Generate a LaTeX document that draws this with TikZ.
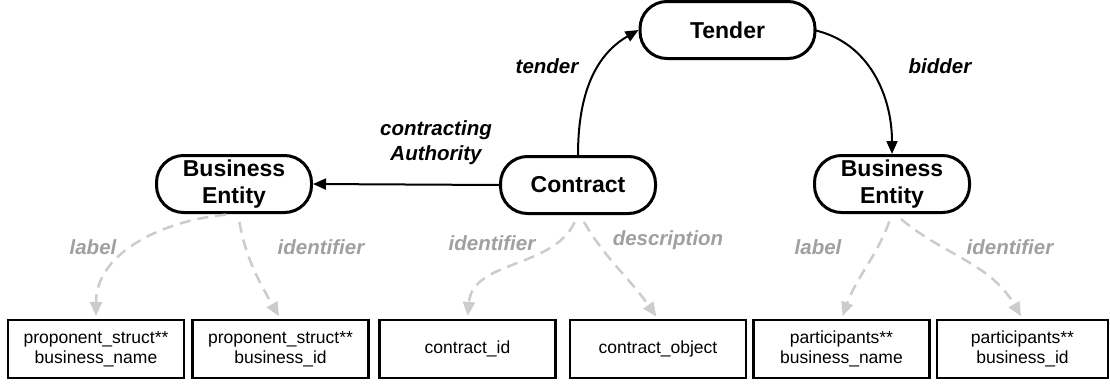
\documentclass[tikz,border=0pt]{standalone}
\usepackage{fontspec}
\setmainfont{Liberation Sans}
\usetikzlibrary{arrows.meta}
\definecolor{lightline}{RGB}{204,204,204}
\definecolor{graytext}{RGB}{160,160,160}
\tikzset{
  entity/.style={draw=black, line width=3pt, rounded corners=27pt, minimum width=155pt, minimum height=57pt, align=center, font=\fontsize{23}{27}\selectfont\bfseries, inner sep=0pt},
  field/.style={draw=black, line width=2.2pt, minimum width=176pt, minimum height=58pt, align=center, font=\fontsize{17.5}{20.5}\selectfont, inner sep=0pt},
  rel/.style={line width=2pt, -{Triangle[length=13pt,width=11pt]}},
  attr/.style={lightline, line width=2.5pt, dash pattern=on 11pt off 7pt, -{Triangle[length=14pt,width=12pt,fill=lightline]}, shorten <=8pt, shorten >=3pt},
  rlab/.style={font=\fontsize{20.5}{25}\selectfont\bfseries\itshape, align=center},
  alab/.style={font=\fontsize{20.5}{25}\selectfont\bfseries\itshape, text=graytext}
}
\begin{document}
\begin{tikzpicture}[x=1pt,y=-1pt]
\useasboundingbox (0,0) rectangle (1110,383);
\node[entity, minimum width=175pt] (tender) at (727.5,30) {Tender};
\node[entity] (contract) at (578,185) {Contract};
\node[entity] (be1) at (234,184) {Business\\Entity};
\node[entity] (be2) at (892,184) {Business\\Entity};

\node[field] (f1) at (96,349) {proponent\_struct**\\business\_name};
\node[field] (f2) at (280.5,349) {proponent\_struct**\\business\_id};
\node[field] (f3) at (467.5,349) {contract\_id};
\node[field] (f4) at (658,349) {contract\_object};
\node[field] (f5) at (841.5,349) {participants**\\business\_name};
\node[field, minimum width=171pt] (f6) at (1022.5,349) {participants**\\business\_id};

\draw[rel] (contract.west) -- (be1.east);
\draw[rel] (contract.north) to[out=90,in=210] (tender.west);
\draw[rel] ([xshift=-3pt]tender.east) to[out=-12,in=90] (be2.north);

\node[rlab] (lca) at (436,143) {contracting\\Authority};
\node[rlab] (lt) at (547,66) {tender};
\node[rlab] (lb) at (940,66) {bidder};

\draw[attr] (be1.south) to[out=185,in=90] (f1.north);
\draw[attr] ([xshift=4pt]be1.south) to[out=-80,in=120] (f2.north);
\draw[attr] (contract.south) to[out=-115,in=85] (f3.north);
\draw[attr] ([xshift=2pt]contract.south) to[out=-60,in=125] (f4.north);
\draw[attr] (be2.south) to[out=-110,in=70] (f5.north);
\draw[attr] ([xshift=3pt]be2.south) to[out=-40,in=120] (f6.north);

\node[alab] (a1) at (93,247) {label};
\node[alab] (a2) at (321,247) {identifier};
\node[alab] (a3) at (492,243) {identifier};
\node[alab] (a4) at (668,240) {description};
\node[alab] (a5) at (818,247) {label};
\node[alab] (a6) at (1010,247) {identifier};
\end{tikzpicture}
\end{document}
